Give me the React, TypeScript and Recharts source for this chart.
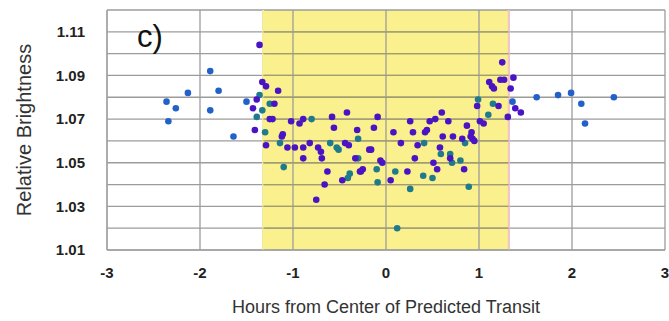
import { CartesianGrid, ReferenceLine, Scatter, ScatterChart, XAxis, YAxis } from 'recharts';

// hours from transit centre, relative brightness
const outOfTransit = [
  [-2.36, 1.078], [-2.34, 1.069], [-2.26, 1.075], [-2.13, 1.082], [-1.89, 1.092], [-1.8, 1.083],
  [-1.89, 1.074], [-1.64, 1.062], [-1.5, 1.078], [1.36, 1.078], [1.62, 1.08], [1.85, 1.081],
  [1.99, 1.082], [2.1, 1.077], [2.14, 1.068], [2.45, 1.08]
];

const violetPoints = [
  [-1.36, 1.104], [-1.33, 1.087], [-1.29, 1.085], [-1.16, 1.083], [-1.39, 1.079], [-1.2, 1.077],
  [-1.43, 1.075], [-1.25, 1.07], [-1.22, 1.07], [-1.02, 1.069], [-0.93, 1.068], [-0.89, 1.07],
  [-0.58, 1.071], [-0.42, 1.073], [-0.09, 1.071], [-1.41, 1.065], [-1.11, 1.063], [-1.12, 1.062],
  [-0.56, 1.066], [-0.31, 1.065], [-0.13, 1.066], [-1.29, 1.058], [-1.06, 1.057], [-0.98, 1.057],
  [-0.89, 1.057], [-0.82, 1.059], [-0.73, 1.057], [-0.7, 1.055], [-0.44, 1.059], [-0.4, 1.058],
  [-0.18, 1.056], [-0.16, 1.056], [-0.89, 1.052], [-0.69, 1.052], [-0.33, 1.052], [-0.06, 1.051],
  [-0.04, 1.05], [-0.63, 1.046], [-0.25, 1.047], [-0.27, 1.046], [-0.47, 1.042], [-0.66, 1.04],
  [-0.28, 1.046], [-0.75, 1.033], [0.05, 1.042], [0.23, 1.046], [0.16, 1.059], [0.08, 1.064],
  [0.29, 1.064], [0.34, 1.058], [0.42, 1.064], [0.31, 1.052], [0.55, 1.047], [0.51, 1.05],
  [0.58, 1.057], [0.61, 1.062], [0.72, 1.062], [0.69, 1.052], [0.84, 1.047], [0.82, 1.061],
  [0.91, 1.062], [0.93, 1.061], [0.95, 1.06], [0.26, 1.069], [0.44, 1.065], [0.47, 1.069],
  [0.53, 1.07], [0.6, 1.073], [0.67, 1.069], [0.87, 1.067], [0.92, 1.064], [0.98, 1.076],
  [1.01, 1.069], [1.05, 1.068], [1.21, 1.076], [1.31, 1.071], [1.39, 1.075], [1.45, 1.073],
  [1.11, 1.087], [1.14, 1.085], [1.16, 1.084], [1.23, 1.088], [1.27, 1.088], [1.25, 1.096],
  [1.34, 1.084], [1.37, 1.089]
];

const tealPoints = [
  [-1.39, 1.071], [-1.33, 1.074], [-1.25, 1.077], [-1.36, 1.081], [-0.8, 1.07], [-1.3, 1.064],
  [-0.3, 1.061], [-1.14, 1.059], [-0.6, 1.059], [-0.53, 1.057], [-0.51, 1.056], [-0.3, 1.052],
  [-1.1, 1.048], [-0.39, 1.045], [-0.41, 1.043], [-0.1, 1.047], [-0.09, 1.041], [0.1, 1.046],
  [0.26, 1.038], [0.12, 1.02], [0.41, 1.059], [0.4, 1.044], [0.5, 1.043], [0.59, 1.054],
  [0.69, 1.054], [0.71, 1.05], [0.8, 1.051], [0.85, 1.059], [0.89, 1.039], [0.99, 1.079],
  [1.1, 1.072], [1.15, 1.077]
];

const xTicks = [-3, -2, -1, 0, 1, 2, 3];
const yTicks = [1.01, 1.02, 1.03, 1.04, 1.05, 1.06, 1.07, 1.08, 1.09, 1.1, 1.11, 1.12];
const yLabelled = [1.01, 1.03, 1.05, 1.07, 1.09, 1.11];
const transitWindow = [-1.32, 1.32];

const toPoints = (list: number[][]) => list.map(([x, y]) => ({ x, y }));
const font = 'Arial, "Liberation Sans", sans-serif';
const gridGrey = '#9c9c9c';
const bandLine = '#a29e6c';
// stripe is drawn at half opacity so it comes out pale yellow
const stripeYellow = '#f7e11d';
const edgeYellow = '#fbf08e';

const dot = (color: string) => (p: any) => <circle cx={p.cx} cy={p.cy} r={3.3} fill={color} />;
const noDot = () => <g />;

export default function App() {
  const [t0, t1] = transitWindow;
  const stripeEdges = [...xTicks, t0, t1].sort((a, b) => a - b);
  const stripeFill = stripeEdges.map((x) => (x >= t0 && x < t1 ? stripeYellow : 'none'));
  return (
    <div style={{ position: 'absolute', left: 0, top: 0, width: 669, height: 321, background: '#fff' }}>
      <ScatterChart width={669} height={321} margin={{ top: 10, right: 4, left: 0, bottom: 0 }}>
        <CartesianGrid
          stroke={gridGrey}
          strokeWidth={1.3}
          horizontalValues={yTicks}
          verticalValues={stripeEdges}
          verticalFill={stripeFill}
          fillOpacity={0.5}
        />
        <ReferenceLine x={t0} stroke={edgeYellow} strokeWidth={2} />
        <ReferenceLine x={t1} stroke="#f2c4c4" strokeWidth={2} />
        {/* grid lines across the yellow window, drawn as two-point lines so they sit on top */}
        {yTicks.slice(1, -1).map((y) => (
          <Scatter
            key={'h' + y}
            data={[{ x: t0, y }, { x: t1, y }]}
            line={{ stroke: bandLine, strokeWidth: 1.3 }}
            shape={noDot}
            isAnimationActive={false}
          />
        ))}
        <XAxis
          type="number"
          dataKey="x"
          domain={[-3, 3]}
          ticks={xTicks}
          axisLine={{ stroke: gridGrey }}
          tickLine={false}
          tickMargin={11}
          height={71}
          tick={{ fill: '#222', fontSize: 15, fontWeight: 'bold', fontFamily: font }}
          label={{ value: 'Hours from Center of Predicted Transit', position: 'insideBottom', offset: 8, fill: '#333', fontSize: 18, fontFamily: font }}
        />
        <YAxis
          type="number"
          dataKey="y"
          domain={[1.01, 1.12]}
          ticks={yTicks}
          interval={0}
          width={107}
          axisLine={{ stroke: gridGrey }}
          tickLine={false}
          tickMargin={16}
          tickFormatter={(v: number) => (yLabelled.some((t) => Math.abs(t - v) < 1e-6) ? v.toFixed(2) : '')}
          tick={{ fill: '#222', fontSize: 15, fontWeight: 'bold', fontFamily: font }}
          label={{ value: 'Relative Brightness', angle: -90, position: 'insideLeft', offset: 24, fill: '#333', fontSize: 20, fontFamily: font, style: { textAnchor: 'middle' } }}
        />
        <Scatter data={toPoints(outOfTransit)} fill="#2262c8" shape={dot('#2262c8')} isAnimationActive={false} />
        <Scatter data={toPoints(tealPoints)} fill="#1f7b8c" shape={dot('#1f7b8c')} isAnimationActive={false} />
        <Scatter data={toPoints(violetPoints)} fill="#4a14c4" shape={dot('#4a14c4')} isAnimationActive={false} />
      </ScatterChart>
      <svg width={669} height={321} style={{ position: 'absolute', left: 0, top: 0, pointerEvents: 'none' }}>
        <text x={137} y={47} fontSize={31} fontFamily={font} fill="#111">c)</text>
      </svg>
    </div>
  );
}
